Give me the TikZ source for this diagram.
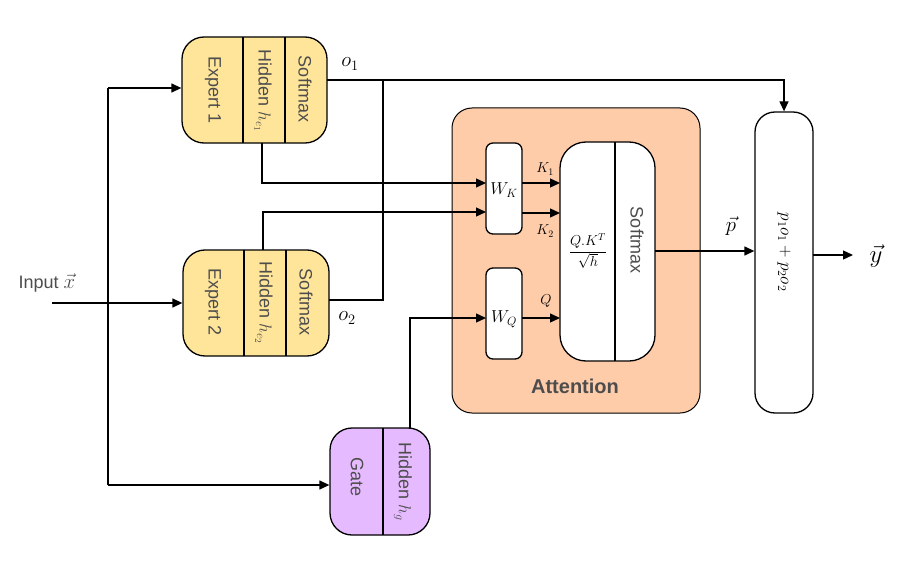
\documentclass[tikz,border=0pt]{standalone}
\usepackage{fontspec}
\setmainfont{Liberation Sans}
\usetikzlibrary{arrows.meta}
\definecolor{expfill}{RGB}{255,229,153}
\definecolor{gatefill}{RGB}{230,186,255}
\definecolor{attfill}{RGB}{255,204,170}
\definecolor{txtgray}{RGB}{77,77,77}
\begin{document}
\begin{tikzpicture}[x=1pt,y=-1pt,
  line width=1.3pt,
  arr/.style={-{Triangle[length=10pt,width=9pt]}},
  box/.style={draw, inner sep=0pt, rounded corners=22pt},
  wbox/.style={draw, fill=white, inner sep=0pt, rounded corners=7pt},
  lbl/.style={text=txtgray, font=\fontsize{18}{20}\selectfont, inner sep=0pt},
  rlbl/.style={lbl, rotate=-90},
  mlbl/.style={font=\fontsize{18}{20}\selectfont, inner sep=0pt},
  olbl/.style={font=\fontsize{21}{23}\selectfont, inner sep=0pt},
  slbl/.style={font=\fontsize{14}{16}\selectfont, inner sep=0pt}]
\useasboundingbox (0,0) rectangle (907,567);

% attention container
\node[box, fill=attfill, rounded corners=20pt, line width=1pt, minimum width=248pt, minimum height=305pt] (att) at (576,260.5) {};
\node[text=txtgray, font=\fontsize{20}{22}\selectfont\bfseries, inner sep=0pt] (attl) at (575,386) {Attention};
\node[wbox, minimum width=36pt, minimum height=91pt] (wk) at (504,188.5) {};
\node[wbox, minimum width=36pt, minimum height=91pt] (wq) at (504,313.5) {};
\node[wbox, rounded corners=26pt, minimum width=95pt, minimum height=219pt] (big) at (607.5,251.5) {};
\draw (615,142) -- (615,361);
\node[font=\fontsize{18}{20}\selectfont, inner sep=0pt] (wkl) at (504,190) {$W_K$};
\node[font=\fontsize{18}{20}\selectfont, inner sep=0pt] (wql) at (504,319) {$W_Q$};
\node[font=\fontsize{14}{16}\selectfont, inner sep=0pt] (frac) at (588,251) {$\displaystyle\frac{Q.K^T}{\sqrt{h}}$};
\node[rlbl] (bsm) at (637,240) {Softmax};

% experts
\node[box, fill=expfill, minimum width=145pt, minimum height=106pt] (e1) at (254.5,90) {};
\draw (243,37) -- (243,143);
\draw (285,37) -- (285,143);
\node[rlbl] (e1a) at (213,90) {Expert 1};
\node[rlbl] (e1b) at (263,91) {Hidden $h_{e_1}$};
\node[rlbl] (e1c) at (305,89) {Softmax};

\node[box, fill=expfill, minimum width=146pt, minimum height=106pt] (e2) at (256,303) {};
\draw (244,250) -- (244,356);
\draw (286,250) -- (286,356);
\node[rlbl] (e2a) at (213,302) {Expert 2};
\node[rlbl] (e2b) at (264,303) {Hidden $h_{e_2}$};
\node[rlbl] (e2c) at (306,302) {Softmax};

% gate
\node[box, fill=gatefill, minimum width=100pt, minimum height=107pt] (gate) at (380,481.5) {};
\draw (383,428) -- (383,535);
\node[rlbl] (ga) at (357,477) {Gate};
\node[rlbl] (gb) at (403,482) {Hidden $h_g$};

% output
\node[box, rounded corners=20pt, minimum width=58pt, minimum height=301pt] (out) at (784,262.5) {};
\node[mlbl, rotate=-90] (outl) at (784,252) {$p_1o_1+p_2o_2$};

% input
\node[lbl] (inl) at (47,283) {Input {\fontsize{21}{23}\selectfont$\vec{x}$}};
\coordinate (in) at (52,303);
\coordinate (vtop) at (108,88);
\coordinate (vbot) at (108,485);
\draw[arr] (in) -- (e2.west);
\draw (vtop) -- (vbot);
\draw[arr] (vtop) -- (vtop -| e1.west);
\draw[arr] (vbot) -- (vbot -| gate.west);

% o1, o2
\coordinate (o1s) at (327,80);
\draw[arr] (o1s) -| (out.north);
\node[olbl] (o1l) at (350,64) {$o_1$};
\coordinate (o2s) at (329,300);
\coordinate (o2j) at (383,80);
\draw (o2s) -| (o2j);
\node[olbl] (o2l) at (347,318) {$o_2$};

% hidden to W
\coordinate (h1) at (262,143);
\coordinate (k1in) at (486,183);
\draw[arr] (h1) |- (k1in);
\coordinate (h2) at (263,250);
\coordinate (k2in) at (486,212);
\draw[arr] (h2) |- (k2in);
\coordinate (hg) at (410,428);
\coordinate (qin) at (486,318);
\draw[arr] (hg) |- (qin);

% W to big
\coordinate (k1a) at (522,183); \coordinate (k1b) at (560,183);
\coordinate (k2a) at (522,213); \coordinate (k2b) at (560,213);
\coordinate (qa) at (522,318); \coordinate (qb) at (560,318);
\draw[arr] (k1a) -- (k1b);
\draw[arr] (k2a) -- (k2b);
\draw[arr] (qa) -- (qb);
\node[slbl] (k1l) at (545,169) {$K_1$};
\node[slbl] (k2l) at (545,231) {$K_2$};
\node[slbl] (ql) at (546,301) {$Q$};

% big to out
\coordinate (pa) at (655,251);
\draw[arr] (pa) -- (pa -| out.west);
\node[olbl] (pl) at (731,226) {$\vec{p}$};
\coordinate (ya) at (813,255);
\coordinate (yb) at (853,255);
\draw[arr] (ya) -- (yb);
\node[font=\fontsize{26}{28}\selectfont, inner sep=0pt] (yl) at (876,256) {$\vec{y}$};
\end{tikzpicture}
\end{document}
